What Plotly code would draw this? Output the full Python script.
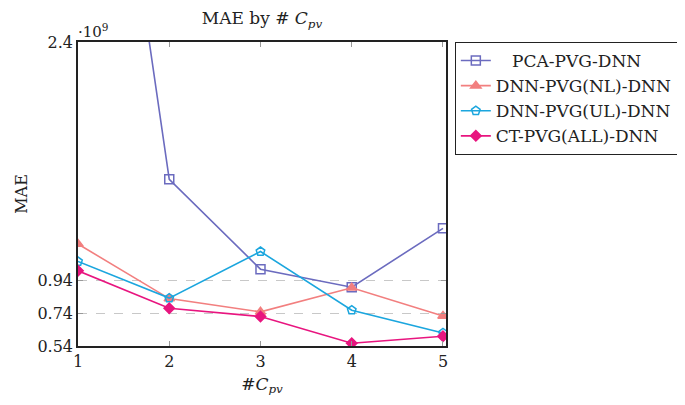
import plotly.graph_objects as go

x_vals = [1, 2, 3, 4, 5]
pca = [5.4, 1.56, 1.01, 0.90, 1.26]
dnn_nl = [1.164, 0.83, 0.749, 0.896, 0.724]
dnn_ul = [1.057, 0.833, 1.118, 0.759, 0.62]
ct_all = [1.0, 0.771, 0.72, 0.557, 0.6]
y_ticks = [0.54, 0.74, 0.94, 2.4]
y_tick_labels = ["0.54", "0.74", "0.94", "2.4"]
x_ticks = [1, 2, 3, 4, 5]
series = [
    ("&#160;&#160;&#160;PCA-PVG-DNN", pca, "#6b6bbf", "square-open", 9),
    ("DNN-PVG(NL)-DNN", dnn_nl, "#f27f7f", "triangle-up", 9),
    ("DNN-PVG(UL)-DNN", dnn_ul, "#1ba6de", "pentagon-open", 9),
    ("CT-PVG(ALL)-DNN", ct_all, "#e8157f", "diamond", 8),
]

# page body has an 8px margin, so the figure is drawn 8px smaller
W, H = 677, 397
FONT = "DejaVu Serif"
fig = go.Figure()
for name, vals, color, sym, size in series:
    fig.add_trace(go.Scatter(
        x=x_vals, y=vals, name=name, mode="lines+markers",
        line=dict(color=color, width=1.6),
        marker=dict(symbol=sym, size=size, color=color,
                    line=dict(color=color, width=1.5)),
        cliponaxis=True,
    ))

fig.update_layout(
    width=W, height=H,
    margin=dict(l=70, r=239, t=34, b=59, autoexpand=False),
    paper_bgcolor="white", plot_bgcolor="white",
    font=dict(family=FONT, size=15, color="#222"),
    title=dict(text="MAE by # <i>C</i><sub><i>pv</i></sub>", x=(70 + 438) / 2 / W,
               xanchor="center", y=1 - 10 / H, yanchor="middle",
               pad=dict(t=0, b=0),
               font=dict(family=FONT, size=17)),
    showlegend=True,
    legend=dict(x=1.024, xanchor="left", y=1.0, yanchor="top",
                bordercolor="#222", borderwidth=1, bgcolor="white",
                font=dict(family=FONT, size=17), tracegroupgap=0,
                itemwidth=30),
)
fig.update_xaxes(
    range=[1, 5.033], tickvals=x_ticks, ticktext=[str(v) for v in x_ticks],
    showline=True, linecolor="#222", linewidth=1.5, mirror="ticks",
    ticks="inside", ticklen=5, tickcolor="#999", showgrid=False, zeroline=False,
    automargin=False,
    title=dict(text="#<i>C</i><sub><i>pv</i></sub>", standoff=8, font=dict(size=17)),
    tickfont=dict(size=16),
)
fig.update_yaxes(
    range=[0.54, 2.4], tickvals=y_ticks, ticktext=y_tick_labels,
    showline=True, linecolor="#222", linewidth=1.5, mirror="ticks",
    ticks="inside", ticklen=5, tickcolor="#999",
    showgrid=True, gridcolor="#c8c8c8", griddash="dash", gridwidth=1.2,
    zeroline=False, automargin=False,
    title=dict(text="MAE", standoff=6, font=dict(size=16)),
    tickfont=dict(size=16),
)
fig.add_annotation(text="·10<sup>9</sup>", xref="paper", yref="paper",
                   x=0, y=1, xanchor="left", yanchor="bottom", showarrow=False,
                   font=dict(family=FONT, size=15), xshift=-2, yshift=-1)
fig.write_html("out.html")
